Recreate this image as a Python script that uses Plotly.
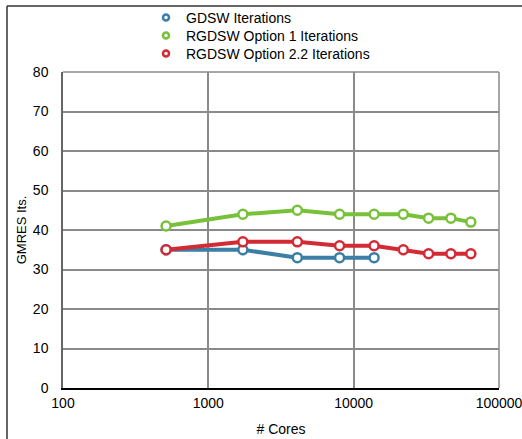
import plotly.graph_objects as go

cores = [512, 1728, 4096, 8000, 13824, 21952, 32768, 46656, 64000]
gdsw = [35, 35, 33, 33, 33]
rgdsw_opt1 = [41, 44, 45, 44, 44, 44, 43, 43, 42]
rgdsw_opt22 = [35, 37, 37, 36, 36, 35, 34, 34, 34]

names = ["GDSW Iterations", "RGDSW Option 1 Iterations", "RGDSW Option 2.2 Iterations"]
colors = ["#3b7ea6", "#78c13b", "#d32a34"]
series = [gdsw, rgdsw_opt1, rgdsw_opt22]

fig = go.Figure()
order = [0, 2, 1]
for i in order:
    ys = series[i]
    fig.add_trace(go.Scatter(
        x=cores[:len(ys)], y=ys, mode="lines+markers", name=names[i],
        line=dict(color=colors[i], width=4),
        marker=dict(symbol="circle", size=9, color="white",
                    line=dict(color=colors[i], width=2.5)),
        showlegend=False))

legend_ids = ["legend", "legend2", "legend3"]
for i in range(3):
    fig.add_trace(go.Scatter(
        x=[None], y=[None], mode="markers", name=names[i],
        legend=legend_ids[i],
        marker=dict(symbol="circle", size=6, color="white",
                    line=dict(color=colors[i], width=2.5))))

W, H = 436, 316
leg_common = dict(xanchor="left", yanchor="top", bgcolor="rgba(0,0,0,0)",
                  font=dict(size=14), itemsizing="trace", itemwidth=30)
leg_x = (146 - 63) / W
leg_tops = [2, 20, 38]

fig.update_layout(
    width=522, height=439,
    margin=dict(l=63, r=23, t=72, b=51, autoexpand=False),
    paper_bgcolor="white", plot_bgcolor="white",
    font=dict(family="Liberation Sans, Arial, sans-serif", size=13, color="black"),
    legend=dict(x=leg_x, y=(388 - leg_tops[0]) / H, **leg_common),
    legend2=dict(x=leg_x, y=(388 - leg_tops[1]) / H, **leg_common),
    legend3=dict(x=leg_x, y=(388 - leg_tops[2]) / H, **leg_common),
    xaxis=dict(type="log", range=[2, 5], tickvals=[100, 1000, 10000, 100000],
               ticktext=["100", "1000", "10000", "100000"],
               showgrid=True, gridcolor="#8a8a8a", gridwidth=1.5,
               showline=True, linecolor="black", linewidth=1.5, mirror=False,
               ticks="", tickfont=dict(size=14), ticklabelstandoff=1,
               ticklabeloverflow="allow",
               title=dict(text="# Cores", font=dict(size=14), standoff=15)),
    yaxis=dict(range=[0, 80], tickvals=list(range(0, 81, 10)),
               showgrid=True, gridcolor="#8a8a8a", gridwidth=1.5,
               showline=True, linecolor="#666666", linewidth=1.5,
               ticks="", tickfont=dict(size=14), zeroline=False,
               ticklabelstandoff=10,
               title=dict(text="GMRES Its.", font=dict(size=13), standoff=3)),
    shapes=[
        dict(type="line", xref="paper", yref="paper", x0=1, x1=1, y0=0, y1=1,
             line=dict(color="#8a8a8a", width=1.5)),
        dict(type="line", xref="paper", yref="paper", x0=0, x1=1, y0=1, y1=1,
             line=dict(color="#8a8a8a", width=1.5)),
        dict(type="line", xref="paper", yref="paper", x0=-56 / W, x1=-56 / W,
             y0=-1, y1=(388 - 6) / H, line=dict(color="#333333", width=1.5)),
        dict(type="line", xref="paper", yref="paper", x0=-56 / W, x1=2,
             y0=(388 - 6) / H, y1=(388 - 6) / H, line=dict(color="#333333", width=1.5)),
    ],
)

fig.write_html("out.html", config={"displayModeBar": False},
               post_script="document.body.style.margin='0';")
